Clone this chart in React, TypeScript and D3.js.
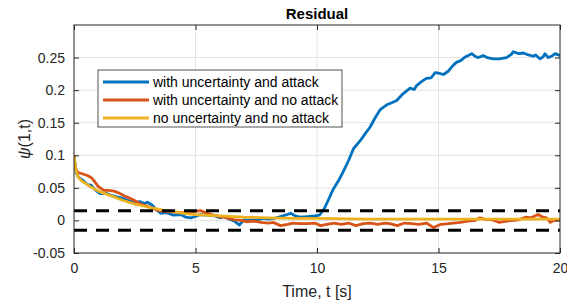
import { useEffect, useRef } from "react";
import * as d3 from "d3";

// [t, value] samples
const attackSeries: [number, number][] = [
  [0, 0.1], [0.05, 0.085], [0.1, 0.072], [0.2, 0.066], [0.35, 0.062], [0.55, 0.055],
  [0.7, 0.054], [0.85, 0.048], [1.0, 0.043], [1.1, 0.041], [1.3, 0.042], [1.5, 0.039],
  [1.78, 0.036], [2.0, 0.034], [2.2, 0.031], [2.47, 0.027], [2.7, 0.029], [2.9, 0.026],
  [3.02, 0.028], [3.2, 0.024], [3.4, 0.016], [3.57, 0.011], [3.8, 0.012], [4.1, 0.008],
  [4.4, 0.009], [4.6, 0.005], [4.8, 0.004], [5.0, 0.006], [5.2, 0.009], [5.5, 0.008],
  [5.8, 0.007], [6.0, 0.004], [6.17, 0.006], [6.4, 0.002], [6.6, -0.001], [6.8, -0.007],
  [7.0, 0.001], [7.3, 0.0], [7.54, 0.001], [7.8, 0.003], [8.0, 0.002], [8.23, 0.003],
  [8.5, 0.006], [8.7, 0.008], [8.92, 0.011], [9.1, 0.007], [9.3, 0.005], [9.6, 0.006],
  [9.9, 0.007], [10.1, 0.008], [10.3, 0.018], [10.4, 0.026], [10.67, 0.048], [10.9, 0.062],
  [11.08, 0.075], [11.3, 0.092], [11.5, 0.11], [11.77, 0.122], [12.0, 0.134], [12.18, 0.143],
  [12.4, 0.158], [12.6, 0.17], [12.9, 0.178], [13.1, 0.181], [13.28, 0.184], [13.5, 0.193],
  [13.83, 0.203], [14.0, 0.201], [14.1, 0.207], [14.3, 0.213], [14.5, 0.218], [14.7, 0.219],
  [14.86, 0.227], [15.0, 0.226], [15.2, 0.224], [15.4, 0.229], [15.6, 0.238], [15.75, 0.243],
  [15.9, 0.245], [16.1, 0.251], [16.37, 0.256], [16.5, 0.252], [16.64, 0.25], [16.84, 0.253],
  [17.0, 0.25], [17.26, 0.248], [17.5, 0.248], [17.8, 0.25], [18.0, 0.255], [18.08, 0.259],
  [18.3, 0.256], [18.49, 0.257], [18.7, 0.254], [18.9, 0.252], [19.0, 0.254], [19.18, 0.248],
  [19.3, 0.251], [19.38, 0.256], [19.52, 0.25], [19.65, 0.252], [19.8, 0.256], [20, 0.253],
];

const noAttackSeries: [number, number][] = [
  [0, 0.1], [0.05, 0.082], [0.14, 0.074], [0.3, 0.072], [0.55, 0.069], [0.7, 0.066],
  [0.82, 0.061], [1.0, 0.052], [1.23, 0.046], [1.4, 0.046], [1.65, 0.045], [1.85, 0.042],
  [2.06, 0.038], [2.3, 0.034], [2.47, 0.031], [2.7, 0.026], [2.9, 0.023], [3.15, 0.02],
  [3.4, 0.016], [3.7, 0.014], [4.1, 0.013], [4.4, 0.012], [4.7, 0.012], [5.0, 0.014],
  [5.2, 0.015], [5.5, 0.011], [5.76, 0.008], [6.0, 0.006], [6.3, 0.004], [6.6, 0.001],
  [6.86, 0.0], [7.1, -0.002], [7.4, -0.001], [7.7, -0.003], [8.0, -0.004], [8.2, -0.003],
  [8.5, -0.008], [8.8, -0.006], [9.0, -0.004], [9.3, -0.005], [9.6, -0.005], [9.9, -0.004],
  [10.15, -0.008], [10.4, -0.006], [10.7, -0.004], [11.0, -0.006], [11.3, -0.004], [11.6, -0.008],
  [11.9, -0.005], [12.2, -0.004], [12.5, -0.006], [12.8, -0.004], [13.0, -0.005], [13.3, -0.008],
  [13.6, -0.004], [13.9, -0.005], [14.2, -0.006], [14.5, -0.004], [14.8, -0.011], [15.1, -0.006],
  [15.4, -0.005], [15.6, -0.004], [15.9, -0.003], [16.2, -0.001], [16.5, 0.0], [16.7, 0.004],
  [16.9, 0.002], [17.2, 0.001], [17.5, -0.003], [17.8, -0.001], [18.1, 0.0], [18.3, 0.001],
  [18.6, 0.005], [18.8, 0.004], [19.1, 0.009], [19.3, 0.005], [19.45, 0.004], [19.6, -0.003],
  [19.75, 0.0], [20, 0.001],
];

const nominalSeries: [number, number][] = [
  [0, 0.1], [0.03, 0.09], [0.08, 0.078], [0.15, 0.068], [0.3, 0.061], [0.5, 0.056],
  [0.75, 0.05], [1.0, 0.045], [1.5, 0.038], [2.0, 0.031], [2.5, 0.025], [3.0, 0.021],
  [3.5, 0.017], [4.0, 0.014], [4.5, 0.011], [5.0, 0.009], [6.0, 0.007], [7.0, 0.005],
  [8.0, 0.004], [9.0, 0.003], [10, 0.003], [12, 0.002], [15, 0.002], [20, 0.002],
];

const thresholds = [0.015, -0.015];
const xTicks = [0, 5, 10, 15, 20];
const yTicks = [-0.05, 0, 0.05, 0.1, 0.15, 0.2, 0.25];
const legendLabels = [
  "with uncertainty and attack",
  "with uncertainty and no attack",
  "no uncertainty and no attack",
];
const colors = ["#0072BD", "#D95319", "#EDB120"];

const W = 567;
const H = 303;
const margin = { top: 25, right: 7, bottom: 50, left: 74 };

export default function App() {
  const svgRef = useRef<SVGSVGElement>(null);

  useEffect(() => {
    const svg = d3.select(svgRef.current);
    svg.selectAll("*").remove();

    const x = d3.scaleLinear().domain([0, 20]).range([margin.left, W - margin.right]);
    const y = d3.scaleLinear().domain([-0.05, 0.3]).range([H - margin.bottom, margin.top]);
    const font = "'Liberation Sans', Arial, sans-serif";
    const ink = "#262626";

    svg.append("rect").attr("width", W).attr("height", H).attr("fill", "white");

    // grid
    const grid = svg.append("g").attr("stroke", "#e3e3e3").attr("stroke-width", 1);
    xTicks.slice(1, -1).forEach((t) => {
      grid.append("line").attr("x1", x(t)).attr("x2", x(t))
        .attr("y1", y.range()[1]).attr("y2", y.range()[0]);
    });
    yTicks.slice(1).forEach((t) => {
      grid.append("line").attr("x1", x.range()[0]).attr("x2", x.range()[1])
        .attr("y1", y(t)).attr("y2", y(t));
    });

    svg.append("defs").append("clipPath").attr("id", "plotclip").append("rect")
      .attr("x", margin.left).attr("y", margin.top)
      .attr("width", W - margin.left - margin.right)
      .attr("height", H - margin.top - margin.bottom);

    const line = d3.line<[number, number]>().x((d) => x(d[0])).y((d) => y(d[1]));
    const plot = svg.append("g").attr("clip-path", "url(#plotclip)");
    [attackSeries, noAttackSeries, nominalSeries].forEach((s, i) => {
      plot.append("path").datum(s).attr("d", line).attr("fill", "none")
        .attr("stroke", colors[i]).attr("stroke-width", 2.8)
        .attr("stroke-linejoin", "round");
    });

    thresholds.forEach((v) => {
      plot.append("line").attr("x1", x(0)).attr("x2", x(20))
        .attr("y1", y(v)).attr("y2", y(v))
        .attr("stroke", "black").attr("stroke-width", 3)
        .attr("stroke-dasharray", "13 9");
    });

    // axes box
    svg.append("rect").attr("x", margin.left).attr("y", margin.top)
      .attr("width", W - margin.left - margin.right)
      .attr("height", H - margin.top - margin.bottom)
      .attr("fill", "none").attr("stroke", ink).attr("stroke-width", 1);

    const axB = d3.axisBottom(x).tickValues(xTicks).tickSize(-5).tickPadding(10)
      .tickFormat((d) => String(d));
    const gx = svg.append("g").attr("transform", `translate(0,${y.range()[0]})`).call(axB);
    const axT = d3.axisTop(x).tickValues(xTicks).tickSize(-5).tickFormat(() => "");
    const gxt = svg.append("g").attr("transform", `translate(0,${margin.top})`).call(axT);
    const axL = d3.axisLeft(y).tickValues(yTicks).tickSize(-5).tickPadding(9)
      .tickFormat((d) => String(+(+d).toFixed(2)));
    const gy = svg.append("g").attr("transform", `translate(${margin.left},0)`).call(axL);
    const axR = d3.axisRight(y).tickValues(yTicks).tickSize(-5).tickFormat(() => "");
    const gyr = svg.append("g").attr("transform", `translate(${W - margin.right},0)`).call(axR);
    [gx, gxt, gy, gyr].forEach((g) => {
      g.select(".domain").remove();
      g.selectAll("line").attr("stroke", ink);
      g.selectAll("text").attr("fill", ink).attr("font-family", font).attr("font-size", 14);
    });

    // title and labels
    svg.append("text").attr("x", (x.range()[0] + x.range()[1]) / 2).attr("y", 19)
      .attr("text-anchor", "middle").attr("font-family", font).attr("font-size", 15)
      .attr("font-weight", "bold").attr("fill", "black").text("Residual");
    svg.append("text").attr("x", (x.range()[0] + x.range()[1]) / 2).attr("y", 297)
      .attr("text-anchor", "middle").attr("font-family", font).attr("font-size", 16)
      .attr("fill", ink).text("Time, t [s]");
    const yl = svg.append("text")
      .attr("transform", `translate(30,${(y.range()[0] + y.range()[1]) / 2}) rotate(-90)`)
      .attr("text-anchor", "middle").attr("font-family", font).attr("font-size", 16)
      .attr("fill", ink);
    yl.append("tspan").attr("font-style", "italic").text("ψ");
    yl.append("tspan").text("(1,t)");

    // legend
    const lg = svg.append("g").attr("transform", "translate(98,70)");
    lg.append("rect").attr("width", 244).attr("height", 57).attr("fill", "white")
      .attr("stroke", ink).attr("stroke-width", 0.8);
    legendLabels.forEach((lab, i) => {
      const cy = 12 + i * 18;
      lg.append("line").attr("x1", 5).attr("x2", 51).attr("y1", cy).attr("y2", cy)
        .attr("stroke", colors[i]).attr("stroke-width", 2.8);
      lg.append("text").attr("x", 55).attr("y", cy + 4.5).attr("font-family", font)
        .attr("font-size", 14).attr("fill", "black").text(lab);
    });
  }, []);

  return (
    <svg ref={svgRef} width={W} height={H}
      style={{ position: "absolute", left: 0, top: 0, display: "block" }} />
  );
}
